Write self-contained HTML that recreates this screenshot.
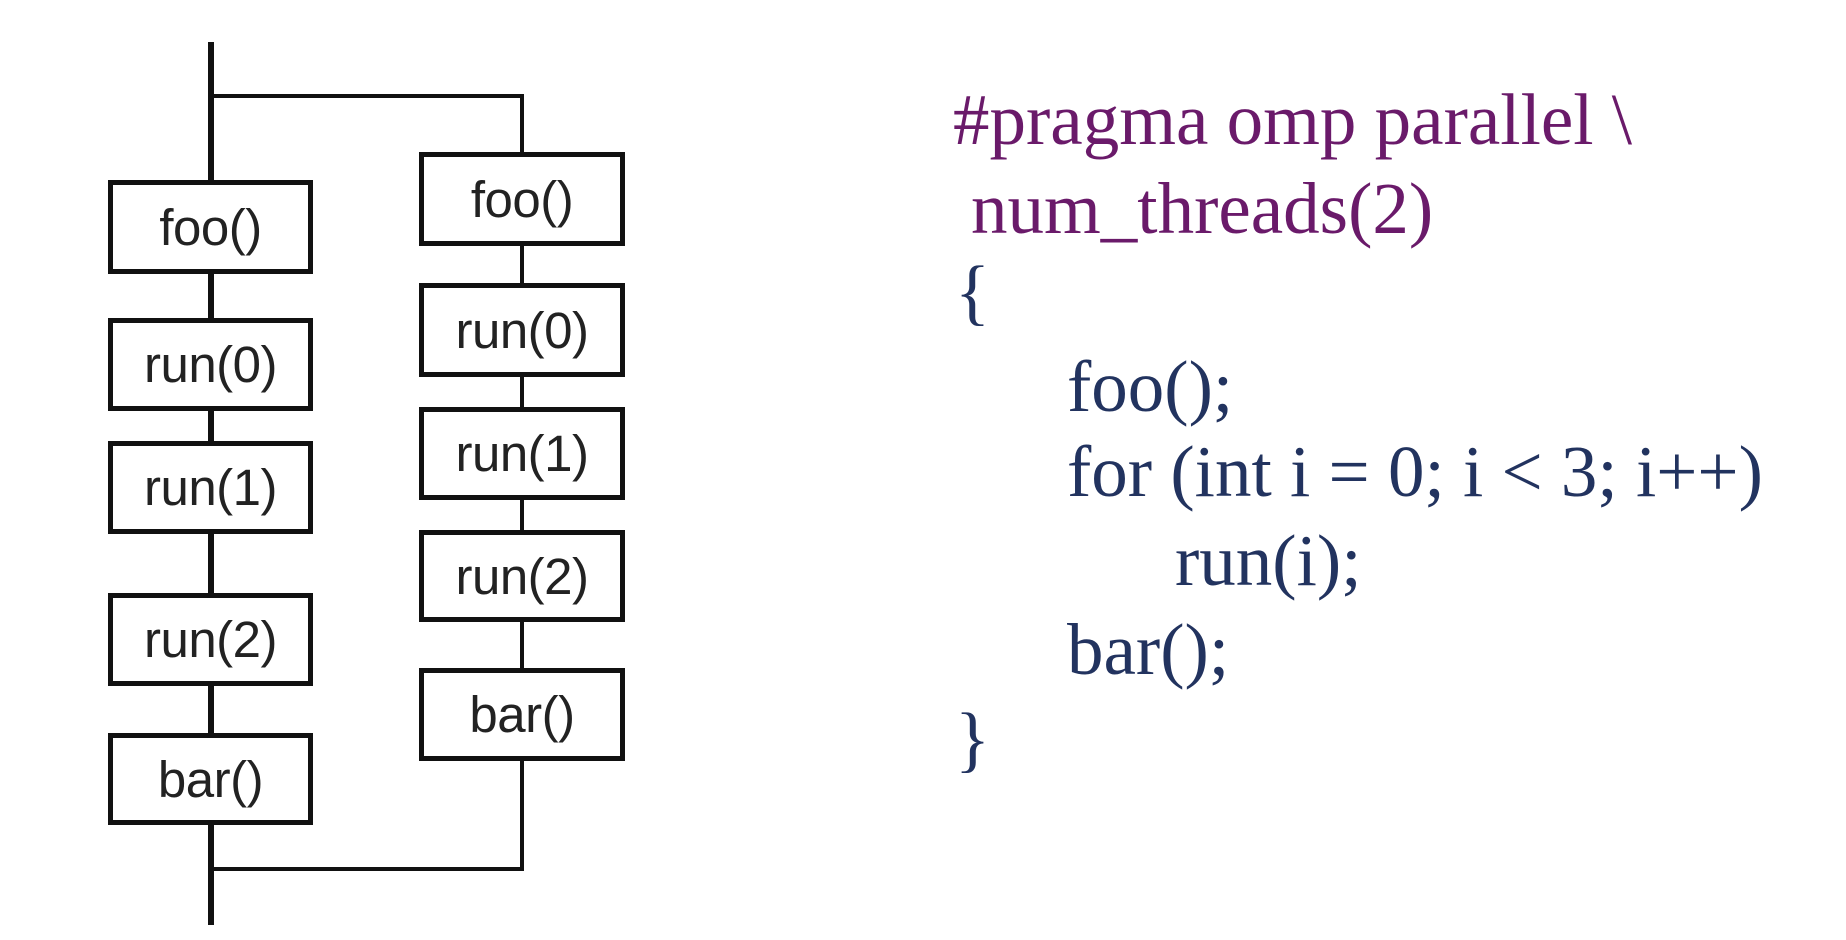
<!DOCTYPE html>
<html><head><meta charset="utf-8"><style>
html,body{margin:0;padding:0;background:#fff;}
body{width:1846px;height:940px;position:relative;overflow:hidden;}
.ln{position:absolute;background:#111;}
.b{position:absolute;box-sizing:border-box;border:5px solid #111;background:#fff;display:flex;align-items:center;justify-content:center;font-family:"Liberation Sans",sans-serif;font-size:51px;color:#222;letter-spacing:-0.5px;}
.c{position:absolute;font-family:"Liberation Serif",serif;font-size:73px;white-space:pre;line-height:1;}
.p{color:#6a1a6a;}
.n{color:#22335f;}
</style></head><body>
<div class="ln" style="left:208px;top:42px;width:6px;height:883px"></div>
<div class="ln" style="left:211px;top:94px;width:313px;height:4px"></div>
<div class="ln" style="left:520px;top:94px;width:4px;height:60px"></div>
<div class="ln" style="left:520px;top:240px;width:4px;height:630px"></div>
<div class="ln" style="left:211px;top:867px;width:313px;height:4px"></div>

<div class="b" style="left:108px;top:180px;width:205px;height:94px">foo()</div>
<div class="b" style="left:108px;top:318px;width:205px;height:93px">run(0)</div>
<div class="b" style="left:108px;top:441px;width:205px;height:93px">run(1)</div>
<div class="b" style="left:108px;top:593px;width:205px;height:93px">run(2)</div>
<div class="b" style="left:108px;top:733px;width:205px;height:92px">bar()</div>

<div class="b" style="left:419px;top:152px;width:206px;height:94px">foo()</div>
<div class="b" style="left:419px;top:283px;width:206px;height:94px">run(0)</div>
<div class="b" style="left:419px;top:407px;width:206px;height:93px">run(1)</div>
<div class="b" style="left:419px;top:530px;width:206px;height:92px">run(2)</div>
<div class="b" style="left:419px;top:668px;width:206px;height:93px">bar()</div>

<div class="c p" style="left:953px;top:83px">#pragma omp parallel \</div>
<div class="c p" style="left:971px;top:172px">num_threads(2)</div>
<div class="c n" style="left:955px;top:255px">{</div>
<div class="c n" style="left:1067px;top:350px">foo();</div>
<div class="c n" style="left:1067px;top:435px">for (int i = 0; i &lt; 3; i++)</div>
<div class="c n" style="left:1175px;top:524px">run(i);</div>
<div class="c n" style="left:1067px;top:613px">bar();</div>
<div class="c n" style="left:955px;top:702px">}</div>
</body></html>
